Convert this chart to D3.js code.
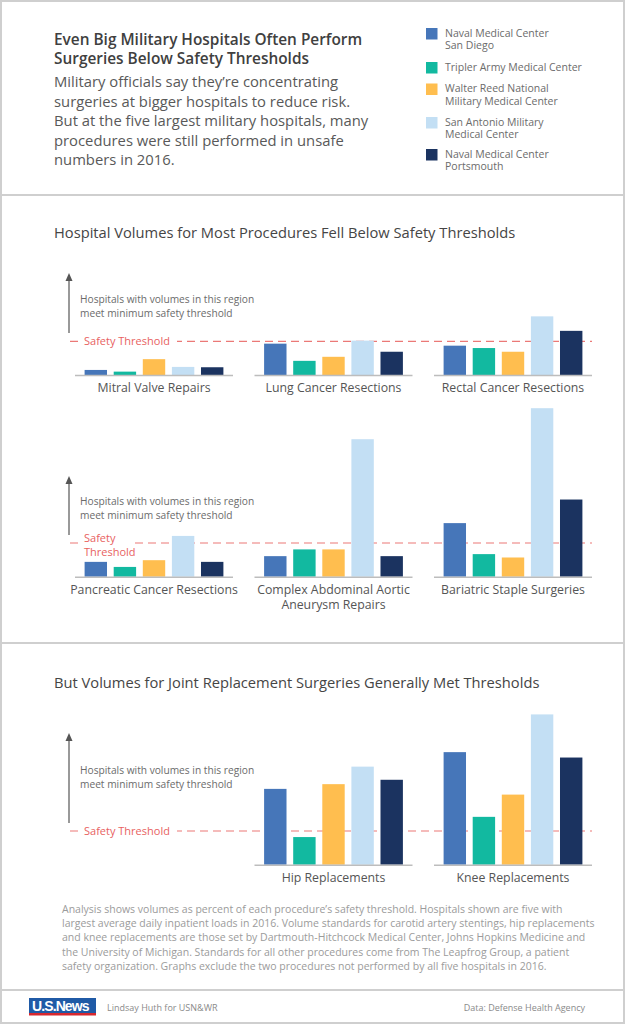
<!DOCTYPE html>
<html>
<head>
<meta charset="utf-8">
<script src="https://cdn.jsdelivr.net/npm/d3@7"></script>
<style>
  html, body { margin: 0; padding: 0; background: #fff; }
  svg { display: block; font-family: "Open Sans", "Noto Sans", sans-serif; }
</style>
</head>
<body>
<svg id="chart" width="625" height="1024"></svg>
<script>
// ─── DATA ───────────────────────────────────────
const hospitals = [
  "Naval Medical Center San Diego",
  "Tripler Army Medical Center",
  "Walter Reed National Military Medical Center",
  "San Antonio Military Medical Center",
  "Naval Medical Center Portsmouth"
];
const legendLines = [
  ["Naval Medical Center", "San Diego"],
  ["Tripler Army Medical Center"],
  ["Walter Reed National", "Military Medical Center"],
  ["San Antonio Military", "Medical Center"],
  ["Naval Medical Center", "Portsmouth"]
];
const hospitalColors = ["#4676b9", "#12b9a0", "#ffbe4f", "#c3dff4", "#1b3360"];

// volumes as percent of each procedure's safety threshold
const belowProcedures = [
  ["Mitral Valve Repairs"],
  ["Lung Cancer Resections"],
  ["Rectal Cancer Resections"]
];
const belowValues = [
  [15, 10, 47, 24, 23],
  [93, 42, 54, 102, 69],
  [87, 80, 69, 174, 131]
];
const below2Procedures = [
  ["Pancreatic Cancer Resections"],
  ["Complex Abdominal Aortic", "Aneurysm Repairs"],
  ["Bariatric Staple Surgeries"]
];
const below2Values = [
  [44, 29, 49, 121, 44],
  [61, 81, 81, 408, 61],
  [159, 67, 57, 500, 229]
];
const jointProcedures = [
  ["Hip Replacements"],
  ["Knee Replacements"]
];
const jointValues = [
  [225, 82, 239, 291, 252],
  [334, 142, 208, 446, 318]
];

const titleLines = ["Even Big Military Hospitals Often Perform", "Surgeries Below Safety Thresholds"];
const subtitleLines = [
  "Military officials say they\u2019re concentrating",
  "surgeries at bigger hospitals to reduce risk.",
  "But at the five largest military hospitals, many",
  "procedures were still performed in unsafe",
  "numbers in 2016."
];
const noteLines = [
  "Analysis shows volumes as percent of each procedure\u2019s safety threshold. Hospitals shown are five with",
  "largest average daily inpatient loads in 2016. Volume standards for carotid artery stentings, hip replacements",
  "and knee replacements are those set by Dartmouth-Hitchcock Medical Center, Johns Hopkins Medicine and",
  "the University of Michigan. Standards for all other procedures come from The Leapfrog Group, a patient",
  "safety organization. Graphs exclude the two procedures not performed by all five hospitals in 2016."
];
const regionNote = ["Hospitals with volumes in this region", "meet minimum safety threshold"];

// ─── LAYOUT ─────────────────────────────────────
const W = 625, H = 1024;
const RED = "#e8625f";
const groupX = [75, 254.5, 434];
const groupW = 158;

const svg = d3.select("#chart");
svg.append("rect").attr("width", W).attr("height", H).attr("fill", "#fff");

// height of a bar, 100% = threshold
const yH = d3.scaleLinear().domain([0, 100]).range([0, 33.7]);
const xBand = d3.scaleBand().domain(hospitals).range([0, groupW])
  .paddingInner(0.23).paddingOuter(0.33);

// ─── HEADER ─────────────────────────────────────
svg.append("text")
  .attr("x", 54).attr("y", 44.5)
  .attr("font-size", 15.4).attr("font-weight", 600).attr("fill", "#404040")
  .selectAll("tspan").data(titleLines).join("tspan")
    .attr("x", 54).attr("dy", (d, i) => i ? 19 : 0).text(d => d);

svg.append("text")
  .attr("x", 54).attr("y", 87)
  .attr("font-size", 14.8).attr("fill", "#595959")
  .selectAll("tspan").data(subtitleLines).join("tspan")
    .attr("x", 54).attr("dy", (d, i) => i ? 19.6 : 0).text(d => d);

// legend
const legendY = [28, 62, 83.5, 117, 149];
const legend = svg.append("g").attr("class", "legend");
hospitals.forEach((h, i) => {
  legend.append("rect")
    .attr("x", 426).attr("y", legendY[i]).attr("width", 11.5).attr("height", 11.5)
    .attr("fill", hospitalColors[i]);
  legend.append("text")
    .attr("x", 445).attr("y", legendY[i] + 8.7)
    .attr("font-size", 10.5).attr("fill", "#6b6b6b")
    .selectAll("tspan").data(legendLines[i]).join("tspan")
      .attr("x", 445).attr("dy", (d, j) => j ? 12.6 : 0).text(d => d);
});

// ─── PANEL DRAWING ──────────────────────────────
function drawPanel(opts) {
  const g = svg.append("g");
  const base = opts.baseline;
  const thrY = base - yH(100);

  // region arrow + note
  g.append("line")
    .attr("x1", 69).attr("x2", 69)
    .attr("y1", opts.arrowTop + 6).attr("y2", opts.arrowBottom)
    .attr("stroke", "#555").attr("stroke-width", 1.2);
  g.append("path")
    .attr("d", `M${69 - 3.5},${opts.arrowTop + 8} L69,${opts.arrowTop} L${69 + 3.5},${opts.arrowTop + 8} Z`)
    .attr("fill", "#555");
  g.append("text")
    .attr("x", 80).attr("y", opts.noteY)
    .attr("font-size", 10.2).attr("fill", "#6b6b6b")
    .selectAll("tspan").data(regionNote).join("tspan")
      .attr("x", 80).attr("dy", (d, i) => i ? 14.3 : 0).text(d => d);

  // threshold line
  g.append("line")
    .attr("x1", 70).attr("x2", 592)
    .attr("y1", thrY).attr("y2", thrY)
    .attr("stroke", RED).attr("stroke-opacity", 0.85)
    .attr("stroke-width", 1.2).attr("stroke-dasharray", "8,5");
  g.append("rect")
    .attr("x", 79).attr("y", thrY - opts.labelClear[0])
    .attr("width", opts.labelClear[2]).attr("height", opts.labelClear[1])
    .attr("fill", "#fff");
  g.append("text")
    .attr("x", 84).attr("y", opts.thrLabelY)
    .attr("font-size", 11).attr("fill", RED)
    .selectAll("tspan").data(opts.thrLabel).join("tspan")
      .attr("x", 84).attr("dy", (d, i) => i ? 14.6 : 0).text(d => d);

  // groups
  opts.values.forEach((vals, gi) => {
    const col = opts.cols[gi];
    const gg = g.append("g").attr("transform", `translate(${groupX[col]},0)`);
    gg.selectAll("rect.bar")
      .data(vals.map((v, i) => ({ h: hospitals[i], v, c: hospitalColors[i] })))
      .join("rect")
        .attr("class", "bar")
        .attr("x", d => xBand(d.h))
        .attr("width", xBand.bandwidth())
        .attr("y", d => base - yH(d.v))
        .attr("height", d => yH(d.v))
        .attr("fill", d => d.c);
    gg.append("line")
      .attr("x1", 0).attr("x2", groupW)
      .attr("y1", base + 0.5).attr("y2", base + 0.5)
      .attr("stroke", "#bdbdbd").attr("stroke-width", 1.5);
    gg.append("text")
      .attr("x", groupW / 2).attr("y", base + 17.3)
      .attr("text-anchor", "middle")
      .attr("font-size", 12.3).attr("fill", "#555")
      .selectAll("tspan").data(opts.labels[gi]).join("tspan")
        .attr("x", groupW / 2).attr("dy", (d, i) => i ? 15.2 : 0).text(d => d);
  });
}

// Panel 1 title
svg.append("text")
  .attr("x", 54).attr("y", 238)
  .attr("font-size", 14.7).attr("fill", "#454545")
  .text("Hospital Volumes for Most Procedures Fell Below Safety Thresholds");

drawPanel({
  baseline: 375, arrowTop: 273, arrowBottom: 333, noteY: 303,
  thrLabel: ["Safety Threshold"], thrLabelY: 345, labelClear: [8, 16, 98],
  values: belowValues, labels: belowProcedures, cols: [0, 1, 2]
});

drawPanel({
  baseline: 576.7, arrowTop: 476, arrowBottom: 535, noteY: 505,
  thrLabel: ["Safety", "Threshold"], thrLabelY: 541.7, labelClear: [3, 6, 55],
  values: below2Values, labels: below2Procedures, cols: [0, 1, 2]
});

// Panel 3 title
svg.append("text")
  .attr("x", 54).attr("y", 688)
  .attr("font-size", 14.7).attr("fill", "#454545")
  .text("But Volumes for Joint Replacement Surgeries Generally Met Thresholds");

drawPanel({
  baseline: 864.7, arrowTop: 733, arrowBottom: 823, noteY: 774,
  thrLabel: ["Safety Threshold"], thrLabelY: 835, labelClear: [8, 16, 98],
  values: jointValues, labels: jointProcedures, cols: [1, 2]
});

// ─── NOTES & FOOTER ─────────────────────────────
svg.append("text")
  .attr("x", 62).attr("y", 913)
  .attr("font-size", 10.5).attr("fill", "#9b9b9b")
  .selectAll("tspan").data(noteLines).join("tspan")
    .attr("x", 62).attr("dy", (d, i) => i ? 14.2 : 0).text(d => d);

const logo = svg.append("g").attr("transform", "translate(29,998)");
logo.append("rect").attr("width", 67).attr("height", 15).attr("fill", "#1f5aa6");
logo.append("rect").attr("y", 15).attr("width", 67).attr("height", 2.5).attr("fill", "#d7282f");
logo.append("text")
  .attr("x", 3).attr("y", 13)
  .attr("font-size", 14).attr("font-weight", 700).attr("fill", "#fff")
  .attr("font-family", "'Liberation Sans', Arial, sans-serif")
  .attr("letter-spacing", -0.9)
  .text("U.S.News");

svg.append("text")
  .attr("x", 107).attr("y", 1011)
  .attr("font-size", 9).attr("fill", "#8a8a8a")
  .text("Lindsay Huth for USN&WR");
svg.append("text")
  .attr("x", 585).attr("y", 1011).attr("text-anchor", "end")
  .attr("font-size", 9).attr("fill", "#8a8a8a")
  .text("Data: Defense Health Agency");

// ─── FRAME ──────────────────────────────────────
[195, 643, 990].forEach(y => {
  svg.append("line")
    .attr("x1", 0).attr("x2", W).attr("y1", y).attr("y2", y)
    .attr("stroke", "#cfcfcf").attr("stroke-width", 2);
});
svg.append("rect")
  .attr("x", 1).attr("y", 1).attr("width", W - 2).attr("height", H - 2)
  .attr("fill", "none").attr("stroke", "#cfcfcf").attr("stroke-width", 2);
</script>
</body>
</html>
